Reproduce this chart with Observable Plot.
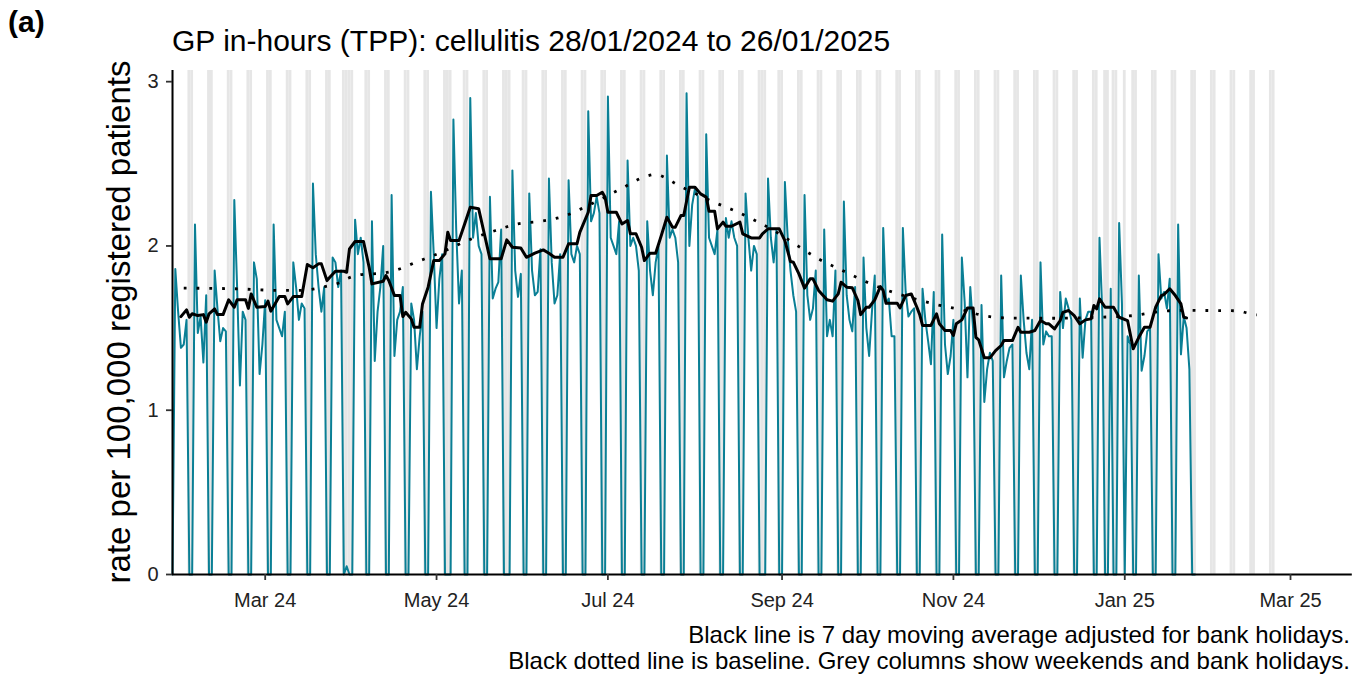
<!DOCTYPE html>
<html>
<head>
<meta charset="utf-8">
<script src="https://cdn.jsdelivr.net/npm/d3@7"></script>
<script src="https://cdn.jsdelivr.net/npm/@observablehq/plot@0.6"></script>
<style>
  body { margin: 0; background: #fff; }
  #chart svg { display: block; }
</style>
</head>
<body>
<div id="chart"></div>
<script>
// ---------------- DATA ----------------
const titleText = "GP in-hours (TPP): cellulitis 28/01/2024 to 26/01/2025";
const panelLabel = "(a)";
const yAxisTitle = "rate per 100,000 registered patients";
const captionLines = [
  "Black line is 7 day moving average adjusted for bank holidays.",
  "Black dotted line is baseline. Grey columns show weekends and bank holidays."
];

// first day of the series (a Sunday, rate 0)
const seriesStart = "2024-01-28";
const firstDayRate = 0;

// daily rates, one row per week starting Monday 29/01/2024: [Mon, Tue, Wed, Thu, Fri, Sat, Sun]
const weeklyRates = [
  [1.86,1.60,1.38,1.40,1.55,0,0],
  [2.13,1.47,1.57,1.29,1.70,0,0],
  [1.85,1.62,1.42,1.50,1.48,0,0],
  [2.28,1.75,1.15,1.60,1.55,0,0],
  [1.90,1.80,1.22,1.40,1.67,0,0],
  [2.13,1.55,1.50,1.45,1.60,0,0],
  [1.90,1.75,1.55,1.65,1.62,0,0],
  [2.38,1.95,1.75,1.60,1.75,0,0],
  [1.93,1.90,1.75,1.85,0,0.05,0],
  [0,2.16,1.95,2.05,1.90,0,0],
  [2.15,1.30,1.60,1.75,2.00,0,0],
  [2.31,1.33,1.55,1.60,1.75,0,0],
  [1.65,1.55,1.25,1.45,1.60,0,0],
  [2.33,1.95,1.50,1.80,1.95,0,0],
  [0,2.77,2.10,1.65,1.85,0,0],
  [2.90,2.05,2.20,2.00,1.95,0,0],
  [2.30,1.68,1.74,1.78,2.10,0,0],
  [0,2.46,1.85,1.69,1.83,0,0],
  [2.32,1.85,1.70,1.72,1.98,0,0],
  [2.41,1.90,1.65,1.70,1.95,0,0],
  [2.40,1.95,1.90,2.00,1.95,0,0],
  [2.82,2.15,2.20,2.30,2.20,0,0],
  [2.91,2.05,2.00,1.95,2.15,0,0],
  [2.52,2.00,2.05,2.00,1.85,0,0],
  [2.15,1.85,1.70,1.90,2.00,0,0],
  [2.55,2.05,2.10,2.05,1.90,0,0],
  [2.93,2.00,2.25,2.35,2.30,0,0],
  [2.68,2.05,2.00,1.95,2.10,0,0],
  [2.17,2.05,2.15,2.05,2.00,0,0],
  [2.32,2.05,1.85,2.00,1.95,0,0],
  [0,2.41,2.05,1.90,2.10,0,0],
  [2.39,2.05,1.85,1.70,1.60,0,0],
  [2.31,1.70,1.55,1.62,1.85,0,0],
  [2.10,1.45,1.55,1.45,1.85,0,0],
  [2.27,1.70,1.55,1.48,1.75,0,0],
  [1.93,1.50,1.33,1.60,1.82,0,0],
  [2.11,1.65,1.68,1.45,1.45,0,0],
  [2.11,1.72,1.57,1.60,1.62,0,0],
  [1.74,1.55,1.42,1.28,1.72,0,0],
  [2.07,1.40,1.22,1.33,1.55,0,0],
  [1.93,1.66,1.20,1.75,1.50,0,0],
  [1.64,1.05,1.25,1.35,1.30,0,0],
  [1.82,1.20,1.30,1.38,1.40,0,0],
  [1.82,1.55,1.35,1.25,1.55,0,0],
  [1.90,1.40,1.48,1.45,1.45,0,0],
  [1.72,1.50,1.68,1.62,1.55,0,0],
  [1.68,1.32,1.55,1.60,1.60,0,0],
  [2.05,1.60,0,0,1.74,0,0],
  [2.14,1.65,0,1.45,1.40,0,0],
  [1.82,1.24,1.33,1.48,1.50,0,0],
  [1.95,1.68,1.72,1.62,1.80,0,0],
  [2.13,1.34,1.57,1.50,1.25,0,0]
];

// 7 day moving average (days since 28/01/2024, value)
const maDayIndex = [3,5,6,7,9,11,12,13,15,16,18,20,22,23,26,27,28,30,33,34,35,38,40,41,43,46,47,48,50,52,53,55,56,58,61,62,63,65,68,70,71,75,76,77,79,81,82,83,85,86,88,89,91,93,95,97,98,99,102,104,106,109,111,113,117,119,121,124,126,129,132,134,136,139,141,144,145,148,149,151,153,154,155,158,160,162,163,165,167,168,170,172,174,176,178,179,181,182,184,186,188,190,191,193,194,196,197,199,202,203,206,209,210,212,216,218,220,221,223,225,227,228,230,233,235,237,238,240,242,244,245,247,248,250,252,253,254,258,259,261,263,265,266,267,270,272,273,275,277,278,279,281,283,285,286,287,289,291,293,295,296,299,301,302,305,307,309,311,312,314,316,317,319,321,323,325,327,328,329,330,332,335,337,340,342,344,346,348,350,352,353,355,357,359,360,361];
const maValues = [1.57,1.611,1.566,1.587,1.576,1.582,1.536,1.587,1.617,1.582,1.582,1.672,1.627,1.672,1.672,1.62,1.708,1.627,1.631,1.664,1.603,1.692,1.692,1.647,1.692,1.692,1.789,1.887,1.867,1.891,1.891,1.789,1.809,1.846,1.846,1.84,1.982,2.027,2.027,1.870,1.769,1.785,1.82,1.79,1.698,1.698,1.570,1.596,1.556,1.505,1.505,1.647,1.749,1.911,1.911,1.952,2.083,2.033,2.033,2.134,2.236,2.226,2.074,1.922,1.922,2.037,1.992,1.988,1.931,1.956,1.976,1.956,1.931,1.931,2.013,2.013,2.083,2.205,2.307,2.307,2.327,2.297,2.205,2.205,2.134,2.155,2.074,2.074,1.992,1.911,1.956,1.956,2.063,2.175,2.114,2.114,2.185,2.185,2.357,2.357,2.317,2.297,2.211,2.211,2.104,2.145,2.12,2.12,2.145,2.074,2.049,2.049,2.074,2.104,2.104,2.033,1.905,1.901,1.830,1.743,1.800,1.80,1.729,1.672,1.664,1.708,1.779,1.749,1.745,1.668,1.582,1.627,1.627,1.672,1.753,1.729,1.651,1.651,1.623,1.698,1.708,1.627,1.582,1.516,1.516,1.587,1.526,1.485,1.485,1.455,1.526,1.550,1.623,1.623,1.444,1.428,1.319,1.319,1.363,1.394,1.424,1.424,1.505,1.475,1.475,1.485,1.546,1.526,1.526,1.495,1.546,1.596,1.607,1.576,1.526,1.550,1.556,1.637,1.617,1.678,1.627,1.627,1.566,1.546,1.374,1.444,1.505,1.505,1.627,1.698,1.704,1.739,1.698,1.647,1.566,1.562];

// baseline (days since 28/01/2024, value)
const baselineDayIndex = [4,23,37,46,55,59,62,67,75,79,87,95,106,115,123,131,140,146,152,160,168,172,176,180,186,192,200,208,216,223,230,238,246,254,263,271,281,289,298,307,316,330,342,351,360,369,379,383,386];
const baselineValues = [1.743,1.739,1.730,1.730,1.755,1.773,1.800,1.825,1.835,1.850,1.903,1.956,2.040,2.094,2.135,2.150,2.185,2.230,2.281,2.351,2.420,2.435,2.410,2.370,2.320,2.272,2.215,2.150,2.074,1.996,1.921,1.855,1.789,1.733,1.684,1.647,1.611,1.575,1.561,1.560,1.560,1.566,1.576,1.600,1.608,1.607,1.605,1.590,1.580];

// grey columns: weekends up to this date, plus bank holidays
const greyColumnsEnd = "2025-02-23";
const bankHolidays = ["2024-03-29","2024-04-01","2024-05-06","2024-05-27","2024-08-26","2024-12-25","2024-12-26","2025-01-01"];

// axes
const xDomain = ["2024-01-28", "2025-03-23"];
const xTickDates = ["2024-03-01","2024-05-01","2024-07-01","2024-09-01","2024-11-01","2025-01-01","2025-03-01"];
const xTickLabels = ["Mar 24","May 24","Jul 24","Sep 24","Nov 24","Jan 25","Mar 25"];
const yTicks = [0, 1, 2, 3];
const yTickLabels = ["0", "1", "2", "3"];
const yMax = 3.068;

// ---------------- BUILD ----------------
const teal = "#0a7f95";
const start = new Date(seriesStart);

const daily = [{date: start, value: firstDayRate}];
weeklyRates.forEach((row, k) => {
  row.forEach((v, j) => {
    daily.push({date: d3.utcDay.offset(start, 1 + 7 * k + j), value: v});
  });
});

const ma = maDayIndex.map((d, i) => ({date: d3.utcDay.offset(start, d), value: maValues[i]}));
const baseline = baselineDayIndex.map((d, i) => ({date: d3.utcDay.offset(start, d), value: baselineValues[i]}));

const holidaySet = new Set(bankHolidays);
const greyDays = d3.utcDays(start, d3.utcDay.offset(new Date(greyColumnsEnd), 1))
  .filter(d => d.getUTCDay() === 0 || d.getUTCDay() === 6 || holidaySet.has(d.toISOString().slice(0, 10)));

const tickDates = xTickDates.map(s => new Date(s));
const tickLabelMap = new Map(tickDates.map((d, i) => [+d, xTickLabels[i]]));
const yLabelMap = new Map(yTicks.map((d, i) => [d, yTickLabels[i]]));
const halfDay = 12 * 3600 * 1000;

const W = 1367, H = 675;
const plot = Plot.plot({
  width: W,
  height: H,
  marginLeft: 172,
  marginRight: 15.2,
  marginTop: 70,
  marginBottom: 101,
  style: {fontFamily: "'Liberation Sans', Arial, Helvetica, sans-serif", fontSize: "20px", background: "#fff", color: "#000"},
  x: {type: "utc", domain: xDomain.map(s => new Date(s)), label: null},
  y: {domain: [0, yMax], label: null},
  marks: [
    Plot.rect(greyDays, {
      x1: d => new Date(+d - halfDay),
      x2: d => new Date(+d + halfDay),
      y1: 0, y2: yMax,
      fill: "#e6e6e6",
      clip: true
    }),
    Plot.line(daily, {x: "date", y: "value", stroke: teal, strokeWidth: 2, strokeLinejoin: "round"}),
    Plot.line(baseline, {x: "date", y: "value", stroke: "#000", strokeWidth: 2.8, strokeDasharray: "2.8,10", strokeLinecap: "butt", curve: "monotone-x"}),
    Plot.line(ma, {x: "date", y: "value", stroke: "#000", strokeWidth: 3, strokeLinejoin: "round"}),
    Plot.ruleY([0], {stroke: "#000", strokeWidth: 2}),
    Plot.ruleX([start], {stroke: "#000", strokeWidth: 2}),
    Plot.axisX(tickDates, {
      tickFormat: d => tickLabelMap.get(+d),
      tickSize: 6, tickPadding: 12, fontSize: 20,
      stroke: "#333", strokeWidth: 1.8, fill: "#222", label: null
    }),
    Plot.axisY(yTicks, {
      tickFormat: d => yLabelMap.get(d),
      tickSize: 6, tickPadding: 8, fontSize: 20,
      stroke: "#333", strokeWidth: 1.8, fill: "#222", label: null
    })
  ]
});

document.getElementById("chart").appendChild(plot);

const svg = d3.select(plot);
const ff = "'Liberation Sans', Arial, Helvetica, sans-serif";

svg.append("text")
  .attr("x", 8).attr("y", 32)
  .attr("text-anchor", "start")
  .attr("font-family", ff).attr("font-size", 30).attr("font-weight", "bold")
  .attr("fill", "#000")
  .text(panelLabel);

svg.append("text")
  .attr("x", 172).attr("y", 51)
  .attr("text-anchor", "start")
  .attr("font-family", ff).attr("font-size", 30)
  .attr("fill", "#000")
  .text(titleText);

svg.append("text")
  .attr("transform", "translate(130,322) rotate(-90)")
  .attr("text-anchor", "middle")
  .attr("font-family", ff).attr("font-size", 33)
  .attr("fill", "#000")
  .text(yAxisTitle);

captionLines.forEach((line, i) => {
  svg.append("text")
    .attr("x", 1350).attr("y", 643 + i * 26)
    .attr("text-anchor", "end")
    .attr("font-family", ff).attr("font-size", 24)
    .attr("fill", "#000")
    .text(line);
});
</script>
</body>
</html>
